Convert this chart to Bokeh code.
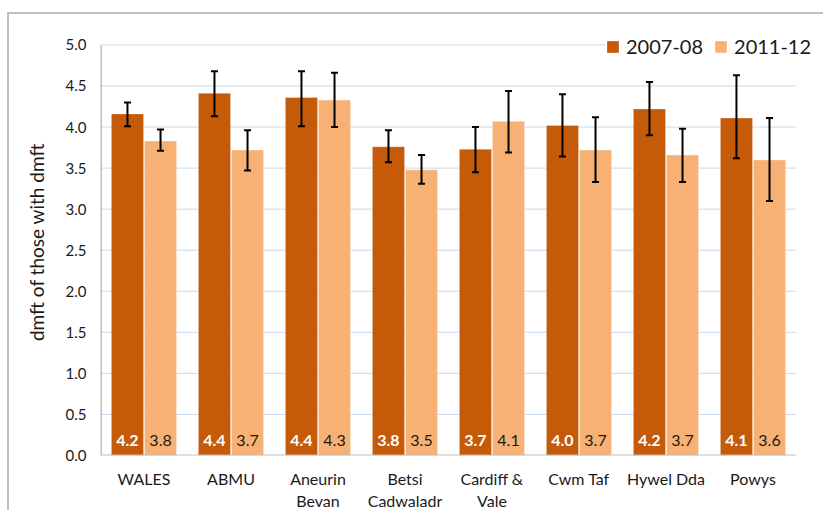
from bokeh.plotting import figure
from bokeh.models import (ColumnDataSource, Range1d, Whisker, TeeHead, LinearAxis,
                          Legend, LegendItem, LabelSet, FixedTicker, NumeralTickFormatter)
from bokeh.transform import dodge
from bokeh.core.properties import value
from bokeh.embed import file_html
from bokeh.resources import INLINE

# ---------------- data ----------------
categories = ["WALES", "ABMU", "Aneurin Bevan", "Betsi Cadwaladr",
              "Cardiff & Vale", "Cwm Taf", "Hywel Dda", "Powys"]
label_line1 = ["WALES", "ABMU", "Aneurin", "Betsi", "Cardiff &", "Cwm Taf", "Hywel Dda", "Powys"]
label_line2 = ["", "", "Bevan", "Cadwaladr", "Vale", "", "", ""]
series = ["2007-08", "2011-12"]

v2007 = [4.16, 4.41, 4.36, 3.76, 3.73, 4.02, 4.22, 4.11]
lo2007 = [4.01, 4.13, 4.01, 3.57, 3.45, 3.64, 3.90, 3.62]
hi2007 = [4.30, 4.68, 4.68, 3.96, 4.00, 4.40, 4.55, 4.63]

v2011 = [3.83, 3.72, 4.33, 3.48, 4.07, 3.72, 3.66, 3.60]
lo2011 = [3.71, 3.47, 4.00, 3.31, 3.69, 3.33, 3.33, 3.10]
hi2011 = [3.97, 3.96, 4.66, 3.66, 4.44, 4.12, 3.98, 4.11]

y_ticks = [0.0, 0.5, 1.0, 1.5, 2.0, 2.5, 3.0, 3.5, 4.0, 4.5, 5.0]
y_title = "dmft of those with dmft"

# ---------------- styles ----------------
DARK = "#c55a09"
LIGHT = "#f8b174"
FONT = "Lato"
TXT = "#1a1a1a"
AXIS = "#bfbfbf"
GRID = "#8fb4e3"

n = len(categories)
idx = list(range(n))
x_lo, x_hi = -0.5, n - 0.5

src = ColumnDataSource(dict(
    x=idx, cat=categories,
    v2007=v2007, lo2007=lo2007, hi2007=hi2007,
    v2011=v2011, lo2011=lo2011, hi2011=hi2011,
    lab2007=[f"{v:.1f}" for v in v2007],
    lab2011=[f"{v:.1f}" for v in v2011],
    ylab=[0.0] * n,
))

p = figure(x_range=Range1d(x_lo, x_hi + 0.276),
           y_range=Range1d(0, 5.2),
           width=816, height=498,
           output_backend="svg", toolbar_location=None,
           min_border_left=91, min_border_right=5,
           min_border_top=14, min_border_bottom=56)
p.styles = {"margin-top": "12px", "margin-left": "7px",
            "border-top": "2px solid #bfbfbf", "border-left": "2px solid #bfbfbf"}
p.outline_line_color = None
p.background_fill_color = "white"
p.border_fill_color = "white"
p.xgrid.grid_line_color = None
p.ygrid.grid_line_color = None

# gridlines (dotted), only across the category area
grid_y = y_ticks[1:]
p.segment(x0=[x_lo] * len(grid_y), x1=[x_hi] * len(grid_y), y0=grid_y, y1=grid_y,
          line_color=GRID, line_dash="1 1", line_width=1)

off = 0.19
w = 0.37
r1 = p.vbar(x=dodge("x", -off), top="v2007", width=w, source=src,
            fill_color=DARK, line_color="white", line_alpha=0.3, line_width=1)
r2 = p.vbar(x=dodge("x", off), top="v2011", width=w, source=src,
            fill_color=LIGHT, line_color="white", line_alpha=0.4, line_width=1)

# axis lines
p.segment(x0=[x_lo], x1=[x_lo], y0=[y_ticks[0]], y1=[y_ticks[-1]], line_color=AXIS, line_width=3)
p.segment(x0=[x_lo], x1=[x_hi], y0=[y_ticks[0]], y1=[y_ticks[0]], line_color=AXIS, line_width=2)

for d, lo, hi in [(-off, "lo2007", "hi2007"), (off, "lo2011", "hi2011")]:
    wh = Whisker(base=dodge("x", d), lower=lo, upper=hi, level="annotation",
                 source=src, line_color="black", line_width=2,
                 upper_head=TeeHead(size=7, line_width=2, line_color="black"),
                 lower_head=TeeHead(size=7, line_width=2, line_color="black"))
    p.add_layout(wh)

lab1 = LabelSet(x=dodge("x", -off), y="ylab", text="lab2007",
                source=src, text_align="center", text_baseline="middle",
                y_offset=15, text_color="white", text_font=value(FONT),
                text_font_style="bold", text_font_size="16px")
lab2 = LabelSet(x=dodge("x", off), y="ylab", text="lab2011",
                source=src, text_align="center", text_baseline="middle",
                y_offset=15, text_color=TXT, text_font=value(FONT),
                text_font_size="16px")
p.add_layout(lab1)
p.add_layout(lab2)

# y axis
p.yaxis.ticker = FixedTicker(ticks=y_ticks)
p.yaxis.formatter = NumeralTickFormatter(format="0.0")
p.yaxis.major_label_text_font_size = "15px"
p.yaxis.major_label_standoff = 14
p.yaxis.axis_label = y_title
p.yaxis.axis_label_text_font = FONT
p.yaxis.axis_label_text_font_style = "normal"
p.yaxis.axis_label_text_font_size = "19px"
p.yaxis.axis_label_text_color = TXT
p.yaxis.axis_label_standoff = 15

# x axes: two stacked axes give the two lines of each category label
xa1 = p.xaxis[0]
xa2 = LinearAxis()
p.add_layout(xa2, "below")
xa1.major_label_overrides = {i: t for i, t in zip(idx, label_line1)}
xa2.major_label_overrides = {i: t for i, t in zip(idx, label_line2)}
xa1.major_label_standoff = 13
xa2.major_label_standoff = 0

for ax in (xa1, xa2, p.yaxis[0]):
    ax.axis_line_color = None
    ax.major_tick_line_color = None
    ax.minor_tick_line_color = None
    ax.major_tick_out = 0
    ax.major_tick_in = 0
    ax.major_label_text_font = FONT
    ax.major_label_text_color = TXT
for ax in (xa1, xa2):
    ax.ticker = FixedTicker(ticks=idx)
    ax.major_label_text_font_size = "16px"

legend = Legend(items=[LegendItem(label=series[0], renderers=[r1]),
                       LegendItem(label=series[1], renderers=[r2])],
                orientation="horizontal", location=(505, 397),
                glyph_width=15, glyph_height=15, label_standoff=6, spacing=10,
                padding=2, margin=0, border_line_color=None,
                background_fill_color="white", background_fill_alpha=1,
                label_text_font=FONT, label_text_font_size="20px",
                label_text_color=TXT, label_height=20)
p.add_layout(legend)

open("out.html", "w").write(file_html(p, INLINE))
